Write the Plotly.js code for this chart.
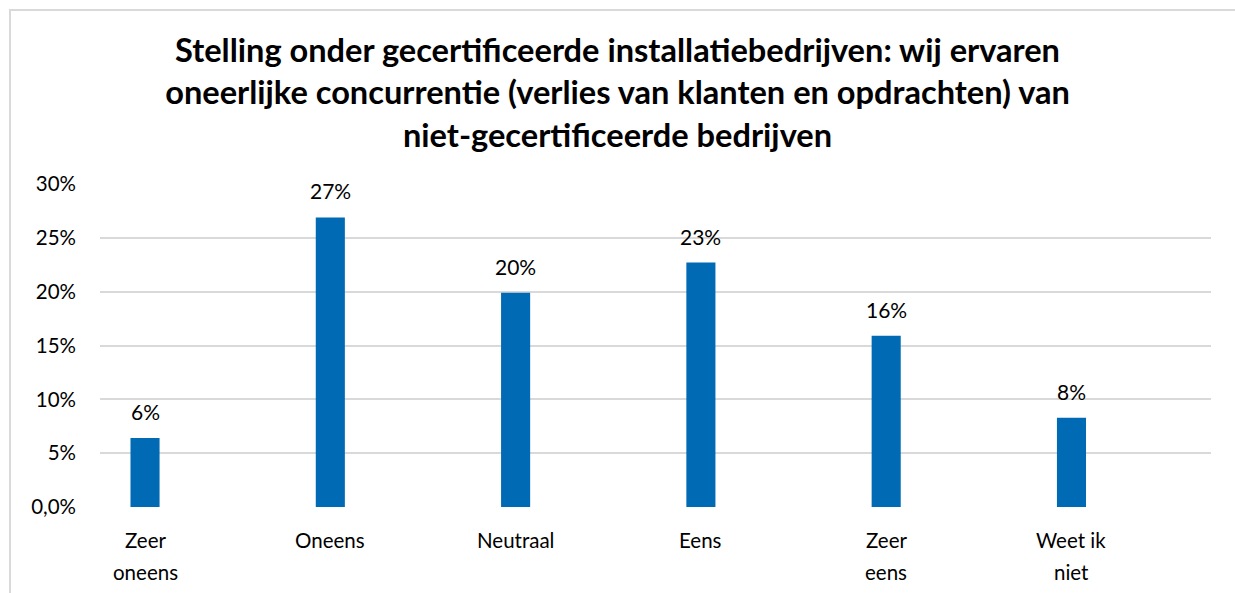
<!DOCTYPE html>
<html>
<head>
<meta charset="utf-8">
<script src="https://cdn.plot.ly/plotly-3.0.1.min.js"></script>
<style>
  html, body { margin: 0; padding: 0; background: #ffffff; }
  #chart { position: absolute; left: 0; top: 0; width: 1235px; height: 593px; }
  #frame { position: absolute; left: 9px; top: 9px; width: 1300px; height: 700px;
           border-left: 2px solid #d9d9d9; border-top: 2px solid #d9d9d9; pointer-events: none; }
</style>
</head>
<body>
<div id="chart"></div>
<div id="frame"></div>
<script>
const categories = ["Zeer oneens", "Oneens", "Neutraal", "Eens", "Zeer eens", "Weet ik niet"];
const categoryLines = [["Zeer", "oneens"], ["Oneens"], ["Neutraal"], ["Eens"], ["Zeer", "eens"], ["Weet ik", "niet"]];
const values = [0.064, 0.269, 0.199, 0.227, 0.159, 0.083];
const valueLabels = ["6%", "27%", "20%", "23%", "16%", "8%"];
const yTickVals = [0, 0.05, 0.10, 0.15, 0.20, 0.25, 0.30];
const yTickText = ["0,0%", "5%", "10%", "15%", "20%", "25%", "30%"];
const titleText = "Stelling onder gecertificeerde installatiebedrijven: wij ervaren<br>oneerlijke concurrentie (verlies van klanten en opdrachten) van<br>niet-gecertificeerde bedrijven";

const xs = categories.map((_, i) => i);
const fontFam = "Lato, 'Source Sans Pro', 'Noto Sans', sans-serif";

const trace = {
  type: "bar",
  x: xs,
  y: values,
  width: 0.157,
  marker: { color: "#006bb4" },
  hoverinfo: "skip"
};

const annotations = xs.map((x, i) => ({
  x: x, y: values[i], xref: "x", yref: "y",
  text: valueLabels[i], showarrow: false,
  yanchor: "bottom", yshift: 12,
  font: { family: fontFam, size: 21, color: "#000000" }
}));

// category labels (Excel-style wrapped lines, wider line spacing)
categoryLines.forEach((lines, i) => {
  lines.forEach((ln, j) => {
    annotations.push({
      x: xs[i], y: 0, xref: "x", yref: "paper",
      text: ln, showarrow: false,
      yanchor: "middle", yshift: -33 - 32 * j,
      font: { family: fontFam, size: 20.5, color: "#000000" }
    });
  });
});

const layout = {
  width: 1235, height: 593,
  margin: { l: 100, r: 24, t: 184, b: 86 },
  paper_bgcolor: "#ffffff", plot_bgcolor: "#ffffff",
  showlegend: false,
  title: {
    text: titleText,
    x: 0.5, xanchor: "center",
    yref: "container", y: 1 - 62 / 593, yanchor: "top",
    font: { family: fontFam, size: 32.6, color: "#000000", weight: 700 }
  },
  xaxis: {
    range: [-0.243, 5.753],
    tickmode: "array", tickvals: xs, ticktext: xs.map(() => ""),
    showgrid: false, zeroline: false, showline: false, ticks: "",
    showticklabels: false
  },
  yaxis: {
    range: [0, 0.30],
    tickmode: "array", tickvals: yTickVals, ticktext: yTickText,
    showgrid: true, gridcolor: "#d9d9d9", gridwidth: 2,
    zeroline: false, showline: false, ticks: "",
    ticklabelstandoff: 23,
    tickfont: { family: fontFam, size: 20.5, color: "#000000" }
  },
  annotations: annotations
};

Plotly.newPlot("chart", [trace], layout, { displayModeBar: false, staticPlot: true });
</script>
</body>
</html>
